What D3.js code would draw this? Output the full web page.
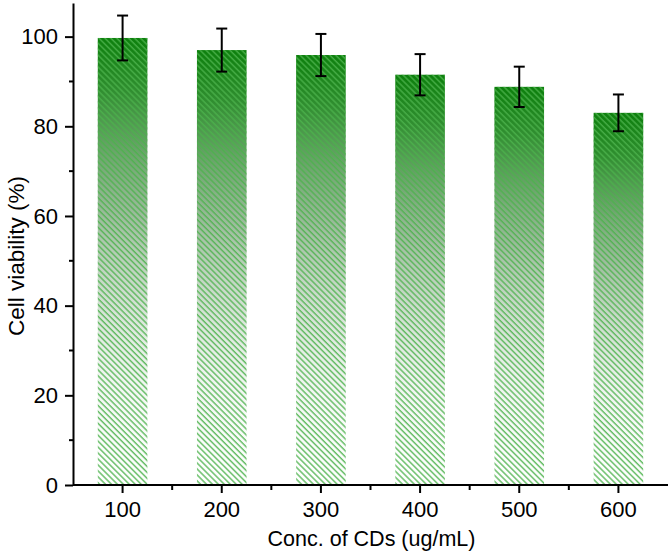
<!DOCTYPE html>
<html>
<head>
<meta charset="utf-8">
<script src="https://cdn.jsdelivr.net/npm/d3@7"></script>
<style>
    body { margin: 0; background: #fff; }
    text { font-family: 'Liberation Sans', Arial, sans-serif; }
</style>
</head>
<body>
<div id="chart"></div>
<script>
const categories = ['100', '200', '300', '400', '500', '600'];
const viability = [99.7, 97.0, 95.9, 91.5, 88.8, 83.0];
const errors = [5.0, 4.8, 4.7, 4.6, 4.5, 4.1];
const yTicks = [0, 20, 40, 60, 80, 100];
const yMinorTicks = [10, 30, 50, 70, 90];

const width = 670,
    height = 556;
const margin = { top: 3, right: 2, bottom: 71, left: 73 };

const svg = d3.select('#chart').append('svg').attr('width', width).attr('height', height);
const defs = svg.append('defs');

// vertical fade, dark green at the top of each bar, greyish in the middle
const grad = defs.append('linearGradient').attr('id', 'barGrad').attr('x1', 0).attr('y1', 0).attr('x2', 0).attr('y2', 1);
[
    [0, '#0c7f0c', 1],
    [0.12, '#1a821a', 0.9],
    [0.4, '#5c905c', 0.6],
    [0.7, '#9cb89c', 0.22],
    [1, '#ffffff', 0],
].forEach((s) => {
    grad.append('stop').attr('offset', s[0]).attr('stop-color', s[1]).attr('stop-opacity', s[2]);
});

const hatch = defs
    .append('pattern')
    .attr('id', 'hatch')
    .attr('patternUnits', 'userSpaceOnUse')
    .attr('width', 4.2)
    .attr('height', 4.2)
    .attr('patternTransform', 'rotate(-45)');
hatch.append('line').attr('x1', 1).attr('y1', 0).attr('x2', 1).attr('y2', 4.2).attr('stroke', '#4cb24c').attr('stroke-width', 1.5);

const x = d3
    .scaleBand()
    .domain(categories)
    .range([margin.left, width - margin.right])
    .paddingInner(0.5)
    .paddingOuter(0.25);

const y = d3
    .scaleLinear()
    .domain([0, 107.5])
    .range([height - margin.bottom, margin.top]);

const g = svg.append('g');

// bars: gradient base + hatch overlay
const bars = g.selectAll('g.bar').data(categories).enter().append('g').attr('class', 'bar');
bars.append('rect')
    .attr('x', (d) => x(d))
    .attr('y', (d, i) => y(viability[i]))
    .attr('width', x.bandwidth())
    .attr('height', (d, i) => y(0) - y(viability[i]))
    .attr('fill', 'url(#barGrad)');
bars.append('rect')
    .attr('x', (d) => x(d))
    .attr('y', (d, i) => y(viability[i]))
    .attr('width', x.bandwidth())
    .attr('height', (d, i) => y(0) - y(viability[i]))
    .attr('fill', 'url(#hatch)')
    .attr('opacity', 0.85);

// error bars
const cap = 5.5;
bars.each(function (d, i) {
    const cx = x(d) + x.bandwidth() / 2;
    const el = d3.select(this);
    const top = y(viability[i] + errors[i]),
        bot = y(viability[i] - errors[i]);
    el.append('line').attr('x1', cx).attr('x2', cx).attr('y1', top).attr('y2', bot);
    el.append('line').attr('x1', cx - cap).attr('x2', cx + cap).attr('y1', top).attr('y2', top);
    el.append('line').attr('x1', cx - cap).attr('x2', cx + cap).attr('y1', bot).attr('y2', bot);
    el.selectAll('line').attr('stroke', '#000').attr('stroke-width', 2);
});

// y axis
const yAxis = svg
    .append('g')
    .attr('transform', `translate(${margin.left},0)`)
    .call(d3.axisLeft(y).tickValues(yTicks).tickSize(8).tickPadding(7).tickSizeOuter(0));
yAxis.append('g')
    .selectAll('line')
    .data(yMinorTicks)
    .enter()
    .append('line')
    .attr('x1', 0)
    .attr('x2', -4)
    .attr('y1', (d) => y(d))
    .attr('y2', (d) => y(d))
    .attr('stroke', '#000')
    .attr('stroke-width', 2);

// x axis
const xAxis = svg
    .append('g')
    .attr('transform', `translate(0,${y(0)})`)
    .call(d3.axisBottom(x).tickSize(8).tickPadding(8).tickSizeOuter(0));
xAxis.append('g')
    .selectAll('line')
    .data(categories.slice(1))
    .enter()
    .append('line')
    .attr('x1', (d) => x(d) - (x.step() * x.paddingInner()) / 2)
    .attr('x2', (d) => x(d) - (x.step() * x.paddingInner()) / 2)
    .attr('y1', 0)
    .attr('y2', 5)
    .attr('stroke', '#000')
    .attr('stroke-width', 2);

[yAxis, xAxis].forEach((ax) => {
    ax.select('.domain').attr('stroke-width', 2);
    ax.selectAll('.tick line').attr('stroke-width', 2);
    ax.selectAll('.tick text').style('font-size', '22px').attr('fill', '#000');
});
xAxis.select('.domain').attr('d', `M${margin.left},0H${width - margin.right}`);

svg.append('text')
    .attr('x', (margin.left + width) / 2)
    .attr('y', 546)
    .attr('text-anchor', 'middle')
    .style('font-size', '21.5px')
    .text('Conc. of CDs (ug/mL)');

svg.append('text')
    .attr('transform', 'translate(16,256) rotate(-90)')
    .attr('text-anchor', 'middle')
    .attr('dy', '0.35em')
    .style('font-size', '22.5px')
    .text('Cell viability (%)');
</script>
</body>
</html>
